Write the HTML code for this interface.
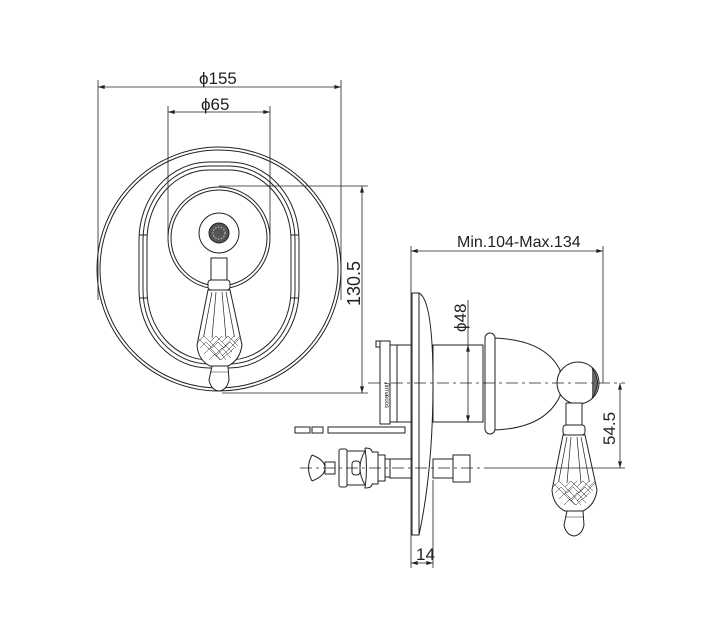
<!DOCTYPE html>
<html><head><meta charset="utf-8"><style>
html,body{margin:0;padding:0;background:#fff;}
svg{display:block;}
text{font-family:"Liberation Sans",sans-serif;fill:#222;}
</style></head><body>
<svg width="711" height="634" viewBox="0 0 711 634" xmlns="http://www.w3.org/2000/svg">
<defs>
<marker id="a" viewBox="0 0 10 6" refX="10" refY="3" markerWidth="9" markerHeight="5" orient="auto-start-reverse"><path d="M0,0 L10,3 L0,6 z" fill="#222"/></marker>
<g id="lever" fill="#fff" stroke="#222" stroke-width="1">
<rect x="211" y="258" width="16" height="22"/>
<rect x="208" y="280" width="22" height="10" rx="3"/>
<path d="M208,290 L230,290 L242,345 Q240,360 228,366 L210,366 Q198,360 197,345 Z"/>
<path d="M212,292 L203,340 M216,292 L212,338 M222,292 L226,338 M226,292 L235,340" stroke-width="0.7"/>
<path d="M198,342 L204,336 L210,342 L216,336 L222,342 L228,336 L234,342 L240,336 M200,348 L206,342 L212,348 L218,342 L224,348 L230,342 L236,348 M204,354 L210,348 L216,354 L222,348 L228,354 L234,348 M209,360 L215,354 L221,360 L227,354 L231,358 M198,338 L210,350 L220,360 M204,336 L218,350 L226,360 M216,336 L232,352 M228,336 L238,346 M240,338 L222,356 M234,336 L216,356 M222,336 L208,350" stroke-width="0.5"/>
<path d="M212,366 L228,366 L229,380 Q227,390 219,391 Q211,390 209,380 Z"/>
<line x1="210" y1="372" x2="228" y2="372" stroke-width="0.6"/>
</g>
</defs>
<g fill="none" stroke="#222" stroke-width="1">
<circle cx="219" cy="269" r="122"/>
<circle cx="219" cy="269" r="119"/>
<rect x="139" y="162" width="160" height="206" rx="70" ry="78"/>
<rect x="143" y="166" width="152" height="198" rx="66" ry="74"/>
<rect x="147" y="170" width="144" height="190" rx="62" ry="70"/>
<line x1="139" y1="235" x2="147" y2="235"/><line x1="139" y1="298" x2="147" y2="298"/>
<line x1="291" y1="235" x2="299" y2="235"/><line x1="291" y1="298" x2="299" y2="298"/>
<circle cx="219" cy="238" r="51"/>
<circle cx="219" cy="238" r="48"/>
<circle cx="219" cy="233" r="20"/>
<circle cx="219" cy="233" r="10" fill="#555"/>
<circle cx="219" cy="233" r="6" stroke="#ccc" stroke-dasharray="1.5 1.5"/>
</g>
<use href="#lever"/>
<g fill="none" stroke="#222" stroke-width="0.8">
<line x1="98" y1="80" x2="98" y2="300"/><line x1="341" y1="80" x2="341" y2="300"/>
<line x1="98" y1="87" x2="341" y2="87" marker-start="url(#a)" marker-end="url(#a)"/>
<line x1="168" y1="106" x2="168" y2="235"/><line x1="270" y1="106" x2="270" y2="235"/>
<line x1="168" y1="112" x2="270" y2="112" marker-start="url(#a)" marker-end="url(#a)"/>
<line x1="219" y1="186" x2="368" y2="186"/><line x1="222" y1="393" x2="368" y2="393"/>
<line x1="362" y1="186" x2="362" y2="393" marker-start="url(#a)" marker-end="url(#a)"/>
</g>
<text x="199" y="84" font-size="17">ϕ155</text>
<text x="201" y="110" font-size="17">ϕ65</text>
<text transform="translate(360,306) rotate(-90)" font-size="18">130.5</text>

<g fill="none" stroke="#222" stroke-width="1">
<rect x="380" y="341" width="10" height="83" fill="#fff"/>
<rect x="376" y="341" width="4" height="6"/>
<rect x="390" y="345" width="7" height="77"/>
<rect x="397" y="345" width="15" height="77"/>
<rect x="412" y="293" width="7" height="242" fill="#fff"/>
<path d="M419,293 Q433,300 433,383 Q433,470 419,535"/>
<rect x="433" y="345" width="50" height="77"/>
<rect x="485" y="333" width="10" height="101" rx="5"/>
<path d="M495,338 Q545,340 560,370 L560,396 Q545,428 495,430"/>
<circle cx="578" cy="383" r="21" fill="#fff"/>
<path d="M592,368 Q603,383 592,398" fill="#666"/>
<rect x="295" y="427" width="15" height="6"/><rect x="312" y="427" width="11" height="6"/><rect x="328" y="427" width="77" height="6"/>
<rect x="390" y="459" width="22" height="19"/>
<rect x="433" y="459" width="20" height="19"/>
<rect x="453" y="455" width="17" height="27"/>
<path d="M312,455 Q305,468 312,481 M312,455 Q325,460 325,468 Q325,476 312,481"/>
<rect x="325" y="462" width="10" height="12"/>
<rect x="339" y="449" width="8" height="38" rx="2"/>
<path d="M347,451 L365,451 Q355,468 365,485 L347,485"/>
<rect x="352" y="461" width="8" height="14" rx="3"/>
<path d="M365,448 Q372,448 372,452 L378,452 L378,484 L372,484 Q372,488 365,488 Q368,468 365,448"/>
<rect x="378" y="455" width="7" height="26"/>
<rect x="385" y="459" width="5" height="18"/>
</g>
<text transform="translate(385,383) rotate(90)" font-size="6">firma</text>
<text transform="translate(385,395) rotate(90)" font-size="6">eoos</text>
<use href="#lever" transform="translate(355,145)"/>
<g fill="none" stroke="#222" stroke-width="0.8">
<line x1="368" y1="383" x2="625" y2="383" stroke-dasharray="12 4 3 4"/>
<line x1="300" y1="468" x2="490" y2="468" stroke-dasharray="12 4 3 4"/>
<line x1="490" y1="468" x2="625" y2="468"/>
<line x1="411" y1="246" x2="411" y2="568"/>
<line x1="603" y1="246" x2="603" y2="383"/>
<line x1="411" y1="251" x2="603" y2="251" marker-start="url(#a)" marker-end="url(#a)"/>
<line x1="433" y1="480" x2="433" y2="568"/>
<line x1="411" y1="563" x2="433" y2="563" marker-start="url(#a)" marker-end="url(#a)"/>
<line x1="468" y1="300" x2="468" y2="345"/>
<line x1="468" y1="345" x2="468" y2="422" marker-start="url(#a)" marker-end="url(#a)"/>
<line x1="620" y1="383" x2="620" y2="468" marker-start="url(#a)" marker-end="url(#a)"/>
</g>
<text x="457" y="247" font-size="16">Min.104-Max.134</text>
<text x="416" y="560" font-size="17">14</text>
<text transform="translate(466,332) rotate(-90)" font-size="17">ϕ48</text>
<text transform="translate(615,445) rotate(-90)" font-size="17">54.5</text>
</svg>
</body></html>
